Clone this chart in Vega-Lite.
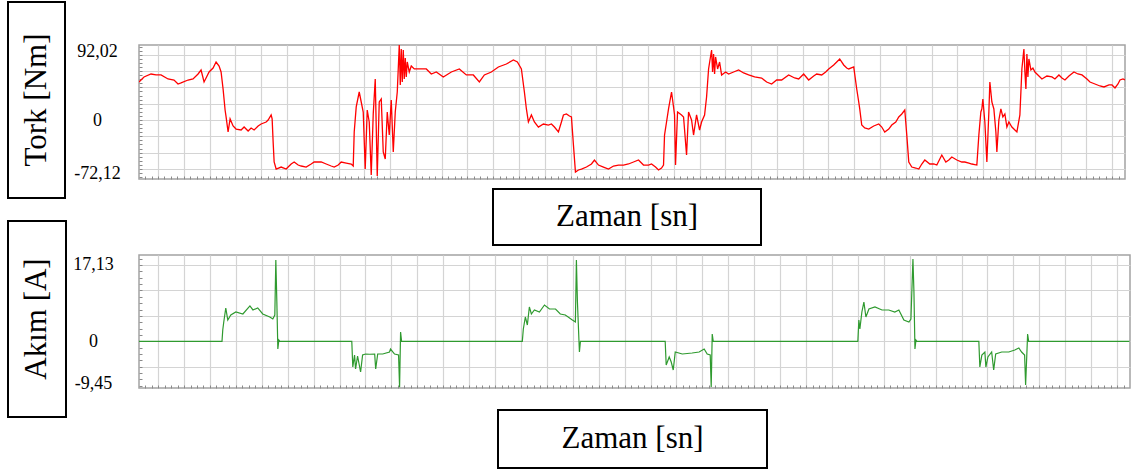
{
  "$schema": "https://vega.github.io/schema/vega-lite/v6.json",
  "padding": {"left": 7, "top": 1, "right": 0, "bottom": 0},
  "config": {
    "view": {"stroke": null},
    "locale": {"number": {"decimal": ",", "thousands": ".", "grouping": [3], "currency": ["", ""], "minus": "-"}},
    "axis": {"labelFont": "Liberation Serif", "labelColor": "black"}
  },
  "datasets": {
    "tork": [
      {"t":0,"v":51.3},{"t":0.2,"v":58.1},{"t":0.48,"v":62.1},{"t":0.68,"v":60.8},{"t":0.88,"v":60.8},{"t":1.16,"v":55.4},{"t":1.4,"v":54.0},{"t":1.56,"v":48.6},{"t":1.68,"v":50.0},{"t":1.96,"v":54.0},{"t":2.16,"v":55.4},{"t":2.36,"v":62.1},{"t":2.48,"v":67.5},{"t":2.6,"v":51.3},{"t":2.72,"v":59.4},{"t":2.8,"v":64.8},{"t":2.96,"v":70.2},{"t":3.08,"v":78.3},{"t":3.2,"v":72.9},{"t":3.28,"v":64.8},{"t":3.36,"v":41.9},{"t":3.44,"v":13.5},{"t":3.48,"v":4.1},{"t":3.56,"v":-16.2},{"t":3.64,"v":1.4},{"t":3.76,"v":-8.1},{"t":3.88,"v":-12.2},{"t":4.08,"v":-13.5},{"t":4.2,"v":-9.5},{"t":4.36,"v":-14.9},{"t":4.48,"v":-10.8},{"t":4.6,"v":-13.5},{"t":4.76,"v":-8.1},{"t":4.88,"v":-5.4},{"t":5.08,"v":-2.7},{"t":5.16,"v":0},{"t":5.28,"v":6.8},{"t":5.32,"v":1.4},{"t":5.36,"v":-29.7},{"t":5.4,"v":-56.7},{"t":5.48,"v":-66.2},{"t":5.68,"v":-63.5},{"t":5.88,"v":-66.2},{"t":6.08,"v":-59.4},{"t":6.2,"v":-56.7},{"t":6.36,"v":-60.8},{"t":6.48,"v":-62.1},{"t":6.68,"v":-63.5},{"t":6.88,"v":-59.4},{"t":7.0,"v":-56.7},{"t":7.2,"v":-56.7},{"t":7.28,"v":-56.7},{"t":7.48,"v":-59.4},{"t":7.68,"v":-62.1},{"t":7.8,"v":-63.5},{"t":7.96,"v":-60.8},{"t":8.08,"v":-56.7},{"t":8.28,"v":-58.1},{"t":8.48,"v":-59.4},{"t":8.56,"v":-62.1},
      {"t":8.6,"v":-16.2},{"t":8.68,"v":17.6},{"t":8.8,"v":37.8},{"t":8.88,"v":24.3},{"t":8.96,"v":10.8},{"t":9.04,"v":-66.2},{"t":9.12,"v":13.5},{"t":9.2,"v":-2.7},{"t":9.28,"v":-74.3},{"t":9.36,"v":8.1},{"t":9.44,"v":55.4},{"t":9.52,"v":-75.6},{"t":9.6,"v":24.3},{"t":9.68,"v":28.4},{"t":9.76,"v":-43.2},{"t":9.84,"v":-52.7},{"t":9.92,"v":10.8},{"t":10.0,"v":-20.3},{"t":10.08,"v":27.0},{"t":10.16,"v":-43.2},{"t":10.24,"v":10.8},{"t":10.32,"v":37.8},{"t":10.4,"v":101.3},{"t":10.44,"v":47.3},{"t":10.48,"v":95.9},{"t":10.52,"v":51.3},{"t":10.56,"v":94.5},{"t":10.6,"v":55.4},{"t":10.64,"v":83.7},{"t":10.68,"v":58.1},{"t":10.72,"v":78.3},{"t":10.8,"v":64.8},{"t":10.88,"v":72.9},{"t":11.0,"v":68.9},{"t":11.28,"v":68.9},{"t":11.48,"v":68.9},{"t":11.68,"v":62.1},{"t":11.88,"v":64.8},{"t":12.16,"v":58.1},{"t":12.48,"v":64.8},{"t":12.8,"v":68.9},{"t":13.08,"v":60.8},{"t":13.36,"v":60.8},{"t":13.6,"v":51.3},{"t":13.8,"v":60.8},{"t":14.08,"v":64.8},{"t":14.36,"v":71.6},{"t":14.68,"v":75.6},{"t":14.96,"v":81.0},{"t":15.12,"v":78.3},{"t":15.28,"v":68.9},
      {"t":15.4,"v":37.8},{"t":15.48,"v":14.9},{"t":15.56,"v":-2.7},{"t":15.68,"v":6.8},{"t":15.8,"v":-2.7},{"t":15.96,"v":-9.5},{"t":16.16,"v":-5.4},{"t":16.36,"v":-6.8},{"t":16.48,"v":-5.4},{"t":16.6,"v":-9.5},{"t":16.76,"v":-16.2},{"t":16.88,"v":-2.7},{"t":16.96,"v":6.8},{"t":17.08,"v":8.1},{"t":17.2,"v":5.4},{"t":17.28,"v":4.1},{"t":17.36,"v":-33.8},{"t":17.44,"v":-70.2},{"t":17.56,"v":-67.5},{"t":17.68,"v":-66.2},{"t":17.88,"v":-63.5},{"t":18.08,"v":-59.4},{"t":18.2,"v":-54.0},{"t":18.36,"v":-60.8},{"t":18.56,"v":-63.5},{"t":18.76,"v":-66.2},{"t":18.96,"v":-62.1},{"t":19.16,"v":-60.8},{"t":19.36,"v":-60.8},{"t":19.56,"v":-59.4},{"t":19.76,"v":-56.7},{"t":19.96,"v":-54.0},{"t":20.16,"v":-60.8},{"t":20.36,"v":-60.8},{"t":20.48,"v":-59.4},{"t":20.64,"v":-63.5},{"t":20.76,"v":-67.5},{"t":20.88,"v":-64.8},{"t":20.96,"v":-60.8},
      {"t":21.0,"v":-20.3},{"t":21.08,"v":-2.7},{"t":21.16,"v":14.9},{"t":21.28,"v":37.8},{"t":21.36,"v":17.6},{"t":21.4,"v":6.8},{"t":21.44,"v":-60.8},{"t":21.52,"v":10.8},{"t":21.68,"v":6.8},{"t":21.76,"v":4.1},{"t":21.88,"v":-47.3},{"t":21.96,"v":10.8},{"t":22.08,"v":0},{"t":22.16,"v":-20.3},{"t":22.28,"v":6.8},{"t":22.4,"v":-13.5},{"t":22.48,"v":-2.7},{"t":22.6,"v":6.8},{"t":22.68,"v":31.1},{"t":22.76,"v":68.9},{"t":22.88,"v":94.5},{"t":22.92,"v":64.8},{"t":22.96,"v":89.1},{"t":23.0,"v":62.1},{"t":23.04,"v":85.1},{"t":23.12,"v":68.9},{"t":23.2,"v":78.3},{"t":23.28,"v":60.8},{"t":23.44,"v":64.8},{"t":23.56,"v":62.1},{"t":23.76,"v":64.8},{"t":23.96,"v":67.5},{"t":24.16,"v":63.5},{"t":24.36,"v":60.8},{"t":24.6,"v":58.1},{"t":24.88,"v":56.7},{"t":25.08,"v":51.3},{"t":25.28,"v":48.6},{"t":25.48,"v":54.0},{"t":25.68,"v":54.0},{"t":25.96,"v":60.8},{"t":26.2,"v":56.7},{"t":26.36,"v":55.4},{"t":26.56,"v":62.1},{"t":26.76,"v":54.0},{"t":26.96,"v":59.4},{"t":27.08,"v":62.1},{"t":27.28,"v":60.8},{"t":27.44,"v":64.8},{"t":27.56,"v":68.9},{"t":27.76,"v":74.3},{"t":27.88,"v":78.3},{"t":28.0,"v":82.4},{"t":28.16,"v":74.3},{"t":28.28,"v":70.2},{"t":28.36,"v":68.9},{"t":28.56,"v":71.6},
      {"t":28.68,"v":41.9},{"t":28.76,"v":24.3},{"t":28.8,"v":14.9},{"t":28.88,"v":-6.8},{"t":29.0,"v":-10.8},{"t":29.16,"v":-12.2},{"t":29.36,"v":-8.1},{"t":29.56,"v":-5.4},{"t":29.68,"v":-9.5},{"t":29.8,"v":-16.2},{"t":29.96,"v":-12.2},{"t":30.08,"v":-6.8},{"t":30.24,"v":-2.7},{"t":30.36,"v":4.1},{"t":30.48,"v":8.1},{"t":30.6,"v":13.5},{"t":30.68,"v":-20.3},{"t":30.76,"v":-56.7},{"t":30.88,"v":-63.5},{"t":31.04,"v":-64.8},{"t":31.16,"v":-66.2},{"t":31.28,"v":-59.4},{"t":31.4,"v":-54.0},{"t":31.6,"v":-59.4},{"t":31.76,"v":-59.4},{"t":31.88,"v":-60.8},{"t":32.0,"v":-52.7},{"t":32.08,"v":-47.3},{"t":32.24,"v":-56.7},{"t":32.36,"v":-54.0},{"t":32.48,"v":-50.0},{"t":32.68,"v":-54.0},{"t":32.88,"v":-56.7},{"t":33.0,"v":-56.7},{"t":33.16,"v":-58.1},{"t":33.28,"v":-59.4},{"t":33.48,"v":-60.8},
      {"t":33.56,"v":-20.3},{"t":33.64,"v":10.8},{"t":33.68,"v":14.9},{"t":33.72,"v":28.4},{"t":33.8,"v":-2.7},{"t":33.88,"v":-56.7},{"t":33.96,"v":10.8},{"t":34.0,"v":51.3},{"t":34.08,"v":24.3},{"t":34.16,"v":14.9},{"t":34.24,"v":-16.2},{"t":34.28,"v":-43.2},{"t":34.36,"v":0},{"t":34.44,"v":14.9},{"t":34.52,"v":4.1},{"t":34.6,"v":8.1},{"t":34.68,"v":-9.5},{"t":34.76,"v":-2.7},{"t":34.88,"v":-9.5},{"t":34.96,"v":-12.2},{"t":35.08,"v":-16.2},{"t":35.2,"v":6.8},{"t":35.28,"v":68.9},{"t":35.36,"v":95.9},{"t":35.4,"v":64.8},{"t":35.44,"v":41.9},{"t":35.48,"v":89.1},{"t":35.52,"v":58.1},{"t":35.56,"v":82.4},{"t":35.64,"v":67.5},{"t":35.72,"v":70.2},{"t":35.8,"v":64.8},{"t":35.92,"v":60.8},{"t":36.08,"v":55.4},{"t":36.28,"v":59.4},{"t":36.48,"v":58.1},{"t":36.6,"v":55.4},{"t":36.76,"v":60.8},{"t":36.88,"v":56.7},{"t":37.0,"v":54.0},{"t":37.16,"v":59.4},{"t":37.36,"v":64.8},{"t":37.52,"v":62.1},{"t":37.68,"v":60.8},{"t":37.88,"v":55.4},{"t":38.0,"v":51.3},{"t":38.2,"v":48.6},{"t":38.4,"v":45.9},{"t":38.56,"v":44.6},{"t":38.76,"v":47.3},{"t":38.88,"v":47.3},{"t":39.0,"v":43.2},{"t":39.12,"v":48.6},{"t":39.2,"v":54.0},{"t":39.32,"v":55.4},{"t":39.4,"v":54.0}
    ],
    "akim": [
      {"t":0,"v":0},{"t":3.30,"v":0},{"t":3.33,"v":2.54},{"t":3.37,"v":4.33},{"t":3.45,"v":7.48},{"t":3.53,"v":4.78},{"t":3.65,"v":5.9},{"t":3.85,"v":6.58},{"t":4.13,"v":6.13},{"t":4.41,"v":7.93},{"t":4.53,"v":7.03},{"t":4.72,"v":7.48},{"t":4.92,"v":6.13},{"t":5.20,"v":5.46},{"t":5.32,"v":5.01},{"t":5.40,"v":5.9},{"t":5.44,"v":18.25},{"t":5.48,"v":9.0},{"t":5.52,"v":-1.73},{"t":5.56,"v":0.3},{"t":5.60,"v":0},
      {"t":8.46,"v":0},{"t":8.50,"v":-5.77},{"t":8.57,"v":-3.08},{"t":8.61,"v":-6.22},{"t":8.69,"v":-3.3},{"t":8.81,"v":-6.89},{"t":8.89,"v":-3.08},{"t":9.01,"v":-2.85},{"t":9.17,"v":-2.9},{"t":9.37,"v":-2.85},{"t":9.41,"v":-6.22},{"t":9.49,"v":-2.85},{"t":9.69,"v":-2.85},{"t":9.96,"v":-2.4},{"t":10.0,"v":-1.73},{"t":10.16,"v":-2.85},{"t":10.32,"v":-3.08},{"t":10.36,"v":-10.3},{"t":10.40,"v":2.09},{"t":10.44,"v":0},
      {"t":15.24,"v":0},{"t":15.28,"v":2.76},{"t":15.36,"v":5.46},{"t":15.44,"v":3.66},{"t":15.52,"v":7.7},{"t":15.60,"v":6.13},{"t":15.72,"v":7.03},{"t":15.92,"v":6.58},{"t":16.12,"v":8.15},{"t":16.32,"v":7.25},{"t":16.56,"v":7.25},{"t":16.75,"v":6.13},{"t":16.95,"v":5.9},{"t":17.23,"v":4.78},{"t":17.35,"v":4.33},{"t":17.39,"v":18.25},{"t":17.43,"v":9.0},{"t":17.51,"v":-2.4},{"t":17.55,"v":0},
      {"t":20.92,"v":0},{"t":20.96,"v":-5.32},{"t":21.08,"v":-3.52},{"t":21.16,"v":-4.65},{"t":21.24,"v":-6.44},{"t":21.32,"v":-2.4},{"t":21.60,"v":-2.85},{"t":21.99,"v":-2.63},{"t":22.27,"v":-2.4},{"t":22.47,"v":-1.73},{"t":22.59,"v":-2.85},{"t":22.71,"v":-3.08},{"t":22.75,"v":-10.26},{"t":22.79,"v":1.64},{"t":22.83,"v":0},
      {"t":28.58,"v":0},{"t":28.62,"v":4.78},{"t":28.66,"v":2.76},{"t":28.74,"v":6.58},{"t":28.82,"v":8.82},{"t":28.90,"v":5.46},{"t":29.02,"v":7.25},{"t":29.26,"v":7.7},{"t":29.54,"v":7.03},{"t":29.81,"v":7.03},{"t":30.05,"v":6.58},{"t":30.21,"v":7.03},{"t":30.41,"v":4.78},{"t":30.61,"v":4.33},{"t":30.69,"v":5.01},{"t":30.77,"v":18.48},{"t":30.81,"v":11.07},{"t":30.85,"v":-1.73},{"t":30.89,"v":0.29},{"t":30.93,"v":0},
      {"t":33.39,"v":0},{"t":33.43,"v":-5.77},{"t":33.51,"v":-3.08},{"t":33.63,"v":-2.4},{"t":33.67,"v":-5.77},{"t":33.75,"v":-3.52},{"t":33.90,"v":-2.4},{"t":33.98,"v":-6.44},{"t":34.06,"v":-2.85},{"t":34.30,"v":-2.4},{"t":34.58,"v":-2.4},{"t":34.82,"v":-1.95},{"t":34.98,"v":-1.5},{"t":35.09,"v":-2.4},{"t":35.21,"v":-3.08},{"t":35.25,"v":-9.81},{"t":35.33,"v":1.64},{"t":35.37,"v":0},{"t":39.38,"v":0}
    ]
  },
  "hconcat": [
    {
      "spacing": 21,
      "vconcat": [
        {
          "width": 57, "height": 196,
          "view": {"stroke": "black", "strokeWidth": 2},
          "data": {"values": [{"label": "Tork [Nm]"}]},
          "mark": {"type": "text", "angle": 270, "font": "Liberation Serif", "fontSize": 31, "color": "black", "align": "center", "baseline": "middle"},
          "encoding": {"text": {"field": "label"}}
        },
        {
          "width": 58, "height": 196,
          "view": {"stroke": "black", "strokeWidth": 2},
          "data": {"values": [{"label": "Akım [A]"}]},
          "mark": {"type": "text", "angle": 270, "font": "Liberation Serif", "fontSize": 31, "color": "black", "align": "center", "baseline": "middle"},
          "encoding": {"text": {"field": "label"}}
        }
      ]
    },
    {
      "spacing": 0,
      "vconcat": [
        {"width": 10, "height": 34, "data": {"values": []}, "mark": "point", "encoding": {}},
        {
          "width": 986, "height": 134,
          "view": {"stroke": "#a3a3a3", "strokeWidth": 1.5},
          "data": {"name": "tork"},
          "mark": {"type": "line", "color": "#ff0000", "strokeWidth": 1.3, "clip": true},
          "encoding": {
            "x": {"field": "t", "type": "quantitative", "scale": {"domain": [0, 39.4], "nice": false, "zero": false},
              "axis": {"title": null, "labels": false, "domain": false,
                "values": [0.245,0.502,0.76,1.018,1.275,1.533,1.79,2.048,2.306,2.563,2.821,3.078,3.336,3.594,3.851,4.109,4.366,4.624,4.882,5.139,5.397,5.654,5.912,6.17,6.427,6.685,6.942,7.2,7.458,7.715,7.973,8.23,8.488,8.746,9.003,9.261,9.518,9.776,10.034,10.291,10.549,10.806,11.064,11.322,11.579,11.837,12.094,12.352,12.61,12.867,13.125,13.382,13.64,13.898,14.155,14.413,14.67,14.928,15.186,15.443,15.701,15.958,16.216,16.474,16.731,16.989,17.246,17.504,17.762,18.019,18.277,18.534,18.792,19.05,19.307,19.565,19.822,20.08,20.338,20.595,20.853,21.11,21.368,21.626,21.883,22.141,22.398,22.656,22.914,23.171,23.429,23.686,23.944,24.202,24.459,24.717,24.974,25.232,25.49,25.747,26.005,26.262,26.52,26.778,27.035,27.293,27.55,27.808,28.066,28.323,28.581,28.838,29.096,29.354,29.611,29.869,30.126,30.384,30.642,30.899,31.157,31.414,31.672,31.93,32.187,32.445,32.702,32.96,33.218,33.475,33.733,33.99,34.248,34.506,34.763,35.021,35.278,35.536,35.794,36.051,36.309,36.566,36.824,37.082,37.339,37.597,37.854,38.112,38.37,38.627,38.885,39.142],
                "grid": true, "gridColor": "#d4d4d4", "gridWidth": 1.2,
                "gridOpacity": {"condition": {"test": "abs((datum.value - 0.76) / 1.0304 - round((datum.value - 0.76) / 1.0304)) < 0.02", "value": 1}, "value": 0},
                "ticks": true, "tickSize": -3, "tickColor": "#8a8a8a", "tickWidth": 1}},
            "y": {"field": "v", "type": "quantitative", "scale": {"domain": [-79.65, 101.25], "nice": false, "zero": false},
              "axis": {"title": null, "domain": false,
                "values": [-77,-71.5,-66,-60.5,-55,-49.5,-44,-38.5,-33,-27.5,-22,-16.5,-11,-5.5,0,5.5,11,16.5,22,27.5,33,38.5,44,49.5,55,60.5,66,71.5,77,82.5,88,93.5,99,92.02,-72.12],
                "format": ".2~f",
                "labelExpr": "indexof([92.02, 0, -72.12], datum.value) >= 0 ? datum.label : ''",
                "labelAlign": "center", "labelBaseline": "middle", "labelFontSize": 18, "labelPadding": 45,
                "labelOverlap": false, "labelFlush": false, "labelBound": false,
                "grid": true, "gridColor": "#d4d4d4", "gridWidth": 1.2,
                "gridOpacity": {"condition": {"test": "indexof([-66, -44, -22, 0, 22, 44, 66, 88], datum.value) >= 0", "value": 1}, "value": 0},
                "ticks": true, "tickSize": -3, "tickColor": "#8a8a8a",
                "tickOpacity": {"condition": {"test": "datum.value === 92.02 || datum.value === -72.12", "value": 0}, "value": 1}}}
          }
        },
        {"width": 10, "height": 1, "data": {"values": []}, "mark": "point", "encoding": {}},
        {
          "spacing": 0,
          "hconcat": [
            {"width": 353, "height": 10, "data": {"values": []}, "mark": "point", "encoding": {}},
            {
              "width": 268, "height": 56,
              "view": {"stroke": "black", "strokeWidth": 2},
              "data": {"values": [{"label": "Zaman [sn]"}]},
              "mark": {"type": "text", "font": "Liberation Serif", "fontSize": 31, "color": "black", "align": "center", "baseline": "middle"},
              "encoding": {"text": {"field": "label"}}
            }
          ]
        },
        {"width": 10, "height": 2, "data": {"values": []}, "mark": "point", "encoding": {}},
        {
          "width": 991, "height": 133,
          "view": {"stroke": "#a3a3a3", "strokeWidth": 1.5},
          "data": {"name": "akim"},
          "mark": {"type": "line", "color": "#2f9a2f", "strokeWidth": 1.2, "clip": true},
          "encoding": {
            "x": {"field": "t", "type": "quantitative", "scale": {"domain": [0, 39.4], "nice": false, "zero": false},
              "axis": {"title": null, "labels": false, "domain": false,
                "values": [0.245,0.502,0.76,1.018,1.275,1.533,1.79,2.048,2.306,2.563,2.821,3.078,3.336,3.594,3.851,4.109,4.366,4.624,4.882,5.139,5.397,5.654,5.912,6.17,6.427,6.685,6.942,7.2,7.458,7.715,7.973,8.23,8.488,8.746,9.003,9.261,9.518,9.776,10.034,10.291,10.549,10.806,11.064,11.322,11.579,11.837,12.094,12.352,12.61,12.867,13.125,13.382,13.64,13.898,14.155,14.413,14.67,14.928,15.186,15.443,15.701,15.958,16.216,16.474,16.731,16.989,17.246,17.504,17.762,18.019,18.277,18.534,18.792,19.05,19.307,19.565,19.822,20.08,20.338,20.595,20.853,21.11,21.368,21.626,21.883,22.141,22.398,22.656,22.914,23.171,23.429,23.686,23.944,24.202,24.459,24.717,24.974,25.232,25.49,25.747,26.005,26.262,26.52,26.778,27.035,27.293,27.55,27.808,28.066,28.323,28.581,28.838,29.096,29.354,29.611,29.869,30.126,30.384,30.642,30.899,31.157,31.414,31.672,31.93,32.187,32.445,32.702,32.96,33.218,33.475,33.733,33.99,34.248,34.506,34.763,35.021,35.278,35.536,35.794,36.051,36.309,36.566,36.824,37.082,37.339,37.597,37.854,38.112,38.37,38.627,38.885,39.142],
                "grid": true, "gridColor": "#d4d4d4", "gridWidth": 1.2,
                "gridOpacity": {"condition": {"test": "abs((datum.value - 0.76) / 1.0304 - round((datum.value - 0.76) / 1.0304)) < 0.02", "value": 1}, "value": 0},
                "ticks": true, "tickSize": -3, "tickColor": "#8a8a8a", "tickWidth": 1}},
            "y": {"field": "v", "type": "quantitative", "scale": {"domain": [-10.48, 19.37], "nice": false, "zero": false},
              "axis": {"title": null, "domain": false,
                "values": [-9.9925,-8.565,-7.1375,-5.71,-4.2825,-2.855,-1.4275,0,1.4275,2.855,4.2825,5.71,7.1375,8.565,9.9925,11.42,12.8475,14.275,15.7025,17.13,18.5575,-9.45],
                "format": ".2~f",
                "labelExpr": "indexof([17.13, 0, -9.45], datum.value) >= 0 ? datum.label : ''",
                "labelAlign": "center", "labelBaseline": "middle", "labelFontSize": 18, "labelPadding": 49,
                "labelOverlap": false, "labelFlush": false, "labelBound": false,
                "grid": true, "gridColor": "#d4d4d4", "gridWidth": 1.2,
                "gridOpacity": {"condition": {"test": "indexof([-5.71, 0, 5.71, 11.42, 17.13], datum.value) >= 0", "value": 1}, "value": 0},
                "ticks": true, "tickSize": -3, "tickColor": "#8a8a8a",
                "tickOpacity": {"condition": {"test": "datum.value === -9.45", "value": 0}, "value": 1}}}
          }
        },
        {"width": 10, "height": 13, "data": {"values": []}, "mark": "point", "encoding": {}},
        {
          "spacing": 0,
          "hconcat": [
            {"width": 358, "height": 10, "data": {"values": []}, "mark": "point", "encoding": {}},
            {
              "width": 269, "height": 58,
              "view": {"stroke": "black", "strokeWidth": 2},
              "data": {"values": [{"label": "Zaman [sn]"}]},
              "mark": {"type": "text", "font": "Liberation Serif", "fontSize": 31, "color": "black", "align": "center", "baseline": "middle"},
              "encoding": {"text": {"field": "label"}}
            }
          ]
        }
      ]
    }
  ],
  "spacing": 5
}
